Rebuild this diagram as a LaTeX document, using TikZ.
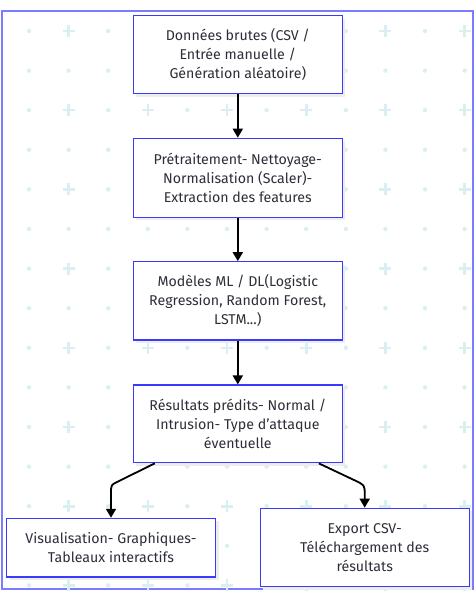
\documentclass[tikz,border=0pt]{standalone}
\usepackage{fontspec}
\setmainfont{Fira Sans}
\usetikzlibrary{arrows.meta,shadows,calc}
\definecolor{boxblue}{HTML}{3A3AFF}
\definecolor{frameblue}{HTML}{7B7BFF}
\definecolor{pat}{HTML}{DAEFF1}
\definecolor{txt}{HTML}{2E2E3A}
\tikzset{
  stepbox/.style={draw=boxblue, line width=1.2pt, fill=white, minimum width=209pt,
    align=center, text=txt, font=\fontsize{14.2}{19}\selectfont,
    drop shadow={shadow xshift=3pt, shadow yshift=-3pt, fill=black!7, opacity=1}},
  flow/.style={draw=black, line width=1.8pt, -{Triangle[width=10pt,length=9pt]}},
  patplus/.style={draw=pat, line width=2.6pt},
  patdot/.style={fill=pat},
}
\begin{document}
\begin{tikzpicture}[x=1pt,y=-1pt]
\useasboundingbox (0,0) rectangle (475,591);
\fill[white] (0,0) rectangle (475,591);
\draw[frameblue, line width=1.2pt] (2,11) rectangle (473,589);
\foreach \i in {0,...,11}{
  \foreach \j in {0,...,14}{
    \pgfmathsetmacro{\px}{29+39.6*\i}
    \pgfmathsetmacro{\py}{31+39.6*\j}
    \pgfmathtruncatemacro{\isplus}{mod(\i,2)*(1-mod(\j,2))}
    \ifnum\isplus=1
      \draw[patplus] (\px-6,\py) -- (\px+6,\py) (\px,\py-6) -- (\px,\py+6);
    \else
      \fill[patdot] (\px,\py) circle (2.2pt);
    \fi
  }
}
\node[stepbox, minimum height=78pt] (b1) at (237.8,54.9) {Données brutes (CSV /\\Entrée manuelle /\\Génération aléatoire)};
\node[stepbox, minimum height=79pt] (b2) at (237.8,177.8) {Prétraitement- Nettoyage-\\Normalisation (Scaler)-\\Extraction des features};
\node[stepbox, minimum height=78.3pt] (b3) at (237.8,300.9) {Modèles ML / DL(Logistic\\Regression, Random Forest,\\LSTM...)};
\node[stepbox, minimum height=77.7pt] (b4) at (237.8,423.9) {Résultats prédits- Normal /\\Intrusion- Type d’attaque\\éventuelle};
\node[stepbox, minimum height=58.7pt] (b5) at (111,547.7) {Visualisation- Graphiques-\\Tableaux interactifs};
\node[stepbox, minimum height=78.4pt] (b6) at (364.7,547.5) {Export CSV-\\Téléchargement des\\résultats};
\draw[flow] (b1.south) -- (b2.north);
\draw[flow] (b2.south) -- (b3.north);
\draw[flow] (b3.south) -- (b4.north);
\draw[flow] ([xshift=-83pt]b4.south) -- (117,482) .. controls (111,485) .. (111,494) -- (b5.north);
\draw[flow] ([xshift=81pt]b4.south) -- (354,480) .. controls (364.7,485) .. (364.7,494) -- (b6.north);
\end{tikzpicture}
\end{document}
